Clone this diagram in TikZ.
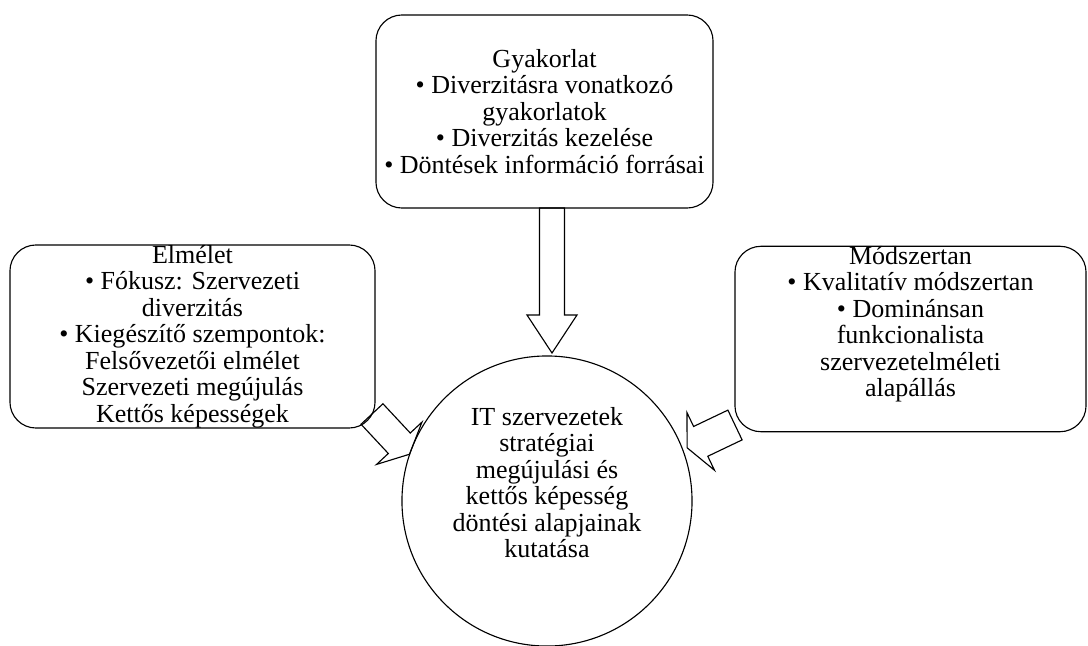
\documentclass[tikz,border=0pt]{standalone}
\usepackage{fontspec}
\setmainfont{Liberation Serif}
\usetikzlibrary{positioning}

\begin{document}
\begin{tikzpicture}[x=0.025cm,y=-0.025cm,
  rbox/.style={draw,line width=0.8pt,rounded corners=0.65cm,inner sep=0pt,
    font=\fontsize{18.5}{18.8}\selectfont,align=center},
  circ/.style={draw,circle,line width=0.8pt,minimum size=7.25cm,inner sep=0pt},
  txt/.style={font=\fontsize{18.5}{18.8}\selectfont,align=center,inner sep=0pt},
  blk/.style={draw,line width=0.8pt,line join=miter}
]
  \useasboundingbox (0,0) rectangle (1088,646);
  \node[rbox,minimum width=8.425cm,minimum height=4.825cm] (gyak) at (544.5,111.5)
    {Gyakorlat\\\textbullet\ Diverzitásra vonatkozó\\gyakorlatok\\\textbullet\ Diverzitás kezelése\\\textbullet\ Döntések információ forrásai};
  \node[rbox,minimum width=9.125cm,minimum height=4.575cm] (elm) at (192.5,336.5)
    {Elmélet\\\textbullet\ Fókusz: Szervezeti\\diverzitás\\\textbullet\ Kiegészítő szempontok:\\Felsővezetői elmélet\\Szervezeti megújulás\\Kettős képességek};
  \node[rbox,minimum width=8.775cm,minimum height=4.55cm,text depth=25pt] (mod) at (910.5,339)
    {Módszertan\\\textbullet\ Kvalitatív módszertan\\\textbullet\ Dominánsan\\funkcionalista\\szervezetelméleti\\alapállás};
  \node[circ] (kut) at (547,501) {};
  \node[txt] (kuttxt) at ([yshift=0.46cm]kut.center)
    {IT szervezetek\\stratégiai\\megújulási és\\kettős képesség\\döntési alapjainak\\kutatása};
  % block arrows
  \begin{scope}[shift={(552,208)},rotate=-90]
    \draw[blk] (0,-12.5) -- (107,-12.5) -- (107,-25) -- (145,0) -- (107,25) -- (107,12.5) -- (0,12.5) -- cycle;
  \end{scope}
  \begin{scope}[shift={(372,414)},rotate=-47]
    \draw[blk] (0,-15) -- (40,-15) -- (40,-31) -- (55,0) -- (40,31) -- (40,15) -- (0,15) -- cycle;
  \end{scope}
  \begin{scope}[shift={(735,425)},rotate=205.5]
    \draw[blk] (0,-16.5) -- (38,-16.5) -- (38,-32) -- (53,0) -- (38,32) -- (38,16.5) -- (0,16.5) -- cycle;
  \end{scope}
\end{tikzpicture}
\end{document}
